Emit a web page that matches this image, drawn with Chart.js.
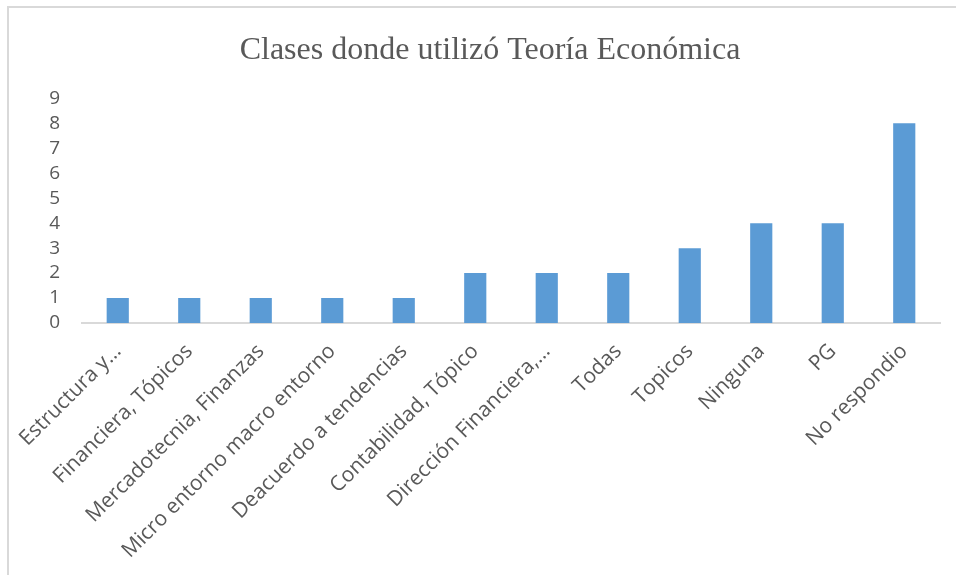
<!DOCTYPE html>
<html>
<head>
<meta charset="utf-8">
<script src="https://cdn.jsdelivr.net/npm/chart.js@4"></script>
<style>
    html, body { margin: 0; padding: 0; background: #ffffff; overflow: hidden; }
    .frame {
        position: absolute; left: 7px; top: 6px; width: 980px; height: 600px;
        border-top: 2px solid #d9d9d9; border-left: 2px solid #d9d9d9;
    }
    .wrap { position: absolute; left: 0; top: 0; width: 956px; height: 575px; }
</style>
</head>
<body>
<div class="frame"></div>
<div class="wrap"><canvas id="chart" width="956" height="575"></canvas></div>
<script>
// Categories and counts
const categories = [
    'Estructura y…',
    'Financiera, Tópicos',
    'Mercadotecnia, Finanzas',
    'Micro entorno macro entorno',
    'Deacuerdo a tendencias',
    'Contabilidad, Tópico',
    'Dirección Financiera,…',
    'Todas',
    'Topicos',
    'Ninguna',
    'PG',
    'No respondio'
];
const counts = [1, 1, 1, 1, 1, 2, 2, 2, 3, 4, 4, 8];
const yTicks = [0, 1, 2, 3, 4, 5, 6, 7, 8, 9];

const TEXT_COLOR = '#595959';
const BAR_COLOR = '#5b9bd5';
const AXIS_COLOR = '#d9d9d9';
const LABEL_FONT = "'Open Sans', sans-serif";

const ctx = document.getElementById('chart').getContext('2d');

new Chart(ctx, {
    type: 'bar',
    data: {
        labels: categories,
        datasets: [{
            data: counts,
            backgroundColor: BAR_COLOR,
            borderWidth: 0,
            categoryPercentage: 1,
            barPercentage: 0.31
        }]
    },
    options: {
        responsive: false,
        animation: false,
        // left padding shifts the title centre to the right; y axis width compensates
        layout: { padding: { left: 40, right: 16, top: 0, bottom: 0 } },
        plugins: {
            legend: { display: false },
            tooltip: { enabled: false },
            title: {
                display: true,
                text: 'Clases donde utilizó Teoría Económica',
                color: TEXT_COLOR,
                font: { family: "'Liberation Serif', serif", size: 32, weight: 'normal' },
                padding: { top: 31, bottom: 29 }
            }
        },
        scales: {
            x: {
                grid: { display: false },
                border: { display: true, color: AXIS_COLOR, width: 2 },
                ticks: {
                    color: TEXT_COLOR,
                    font: { family: LABEL_FONT, size: 21 },
                    minRotation: 45,
                    maxRotation: 45,
                    autoSkip: false,
                    padding: 8
                },
                afterFit: (scale) => { scale.height = 252; }
            },
            y: {
                min: 0,
                max: yTicks[yTicks.length - 1],
                grid: { display: false },
                border: { display: false },
                afterBuildTicks: (scale) => {
                    scale.ticks = yTicks.map(v => ({ value: v }));
                },
                ticks: {
                    color: TEXT_COLOR,
                    font: { family: LABEL_FONT, size: 19 },
                    autoSkip: false,
                    padding: 14
                },
                afterFit: (scale) => { scale.width = 42; }
            }
        }
    }
});
</script>
</body>
</html>
